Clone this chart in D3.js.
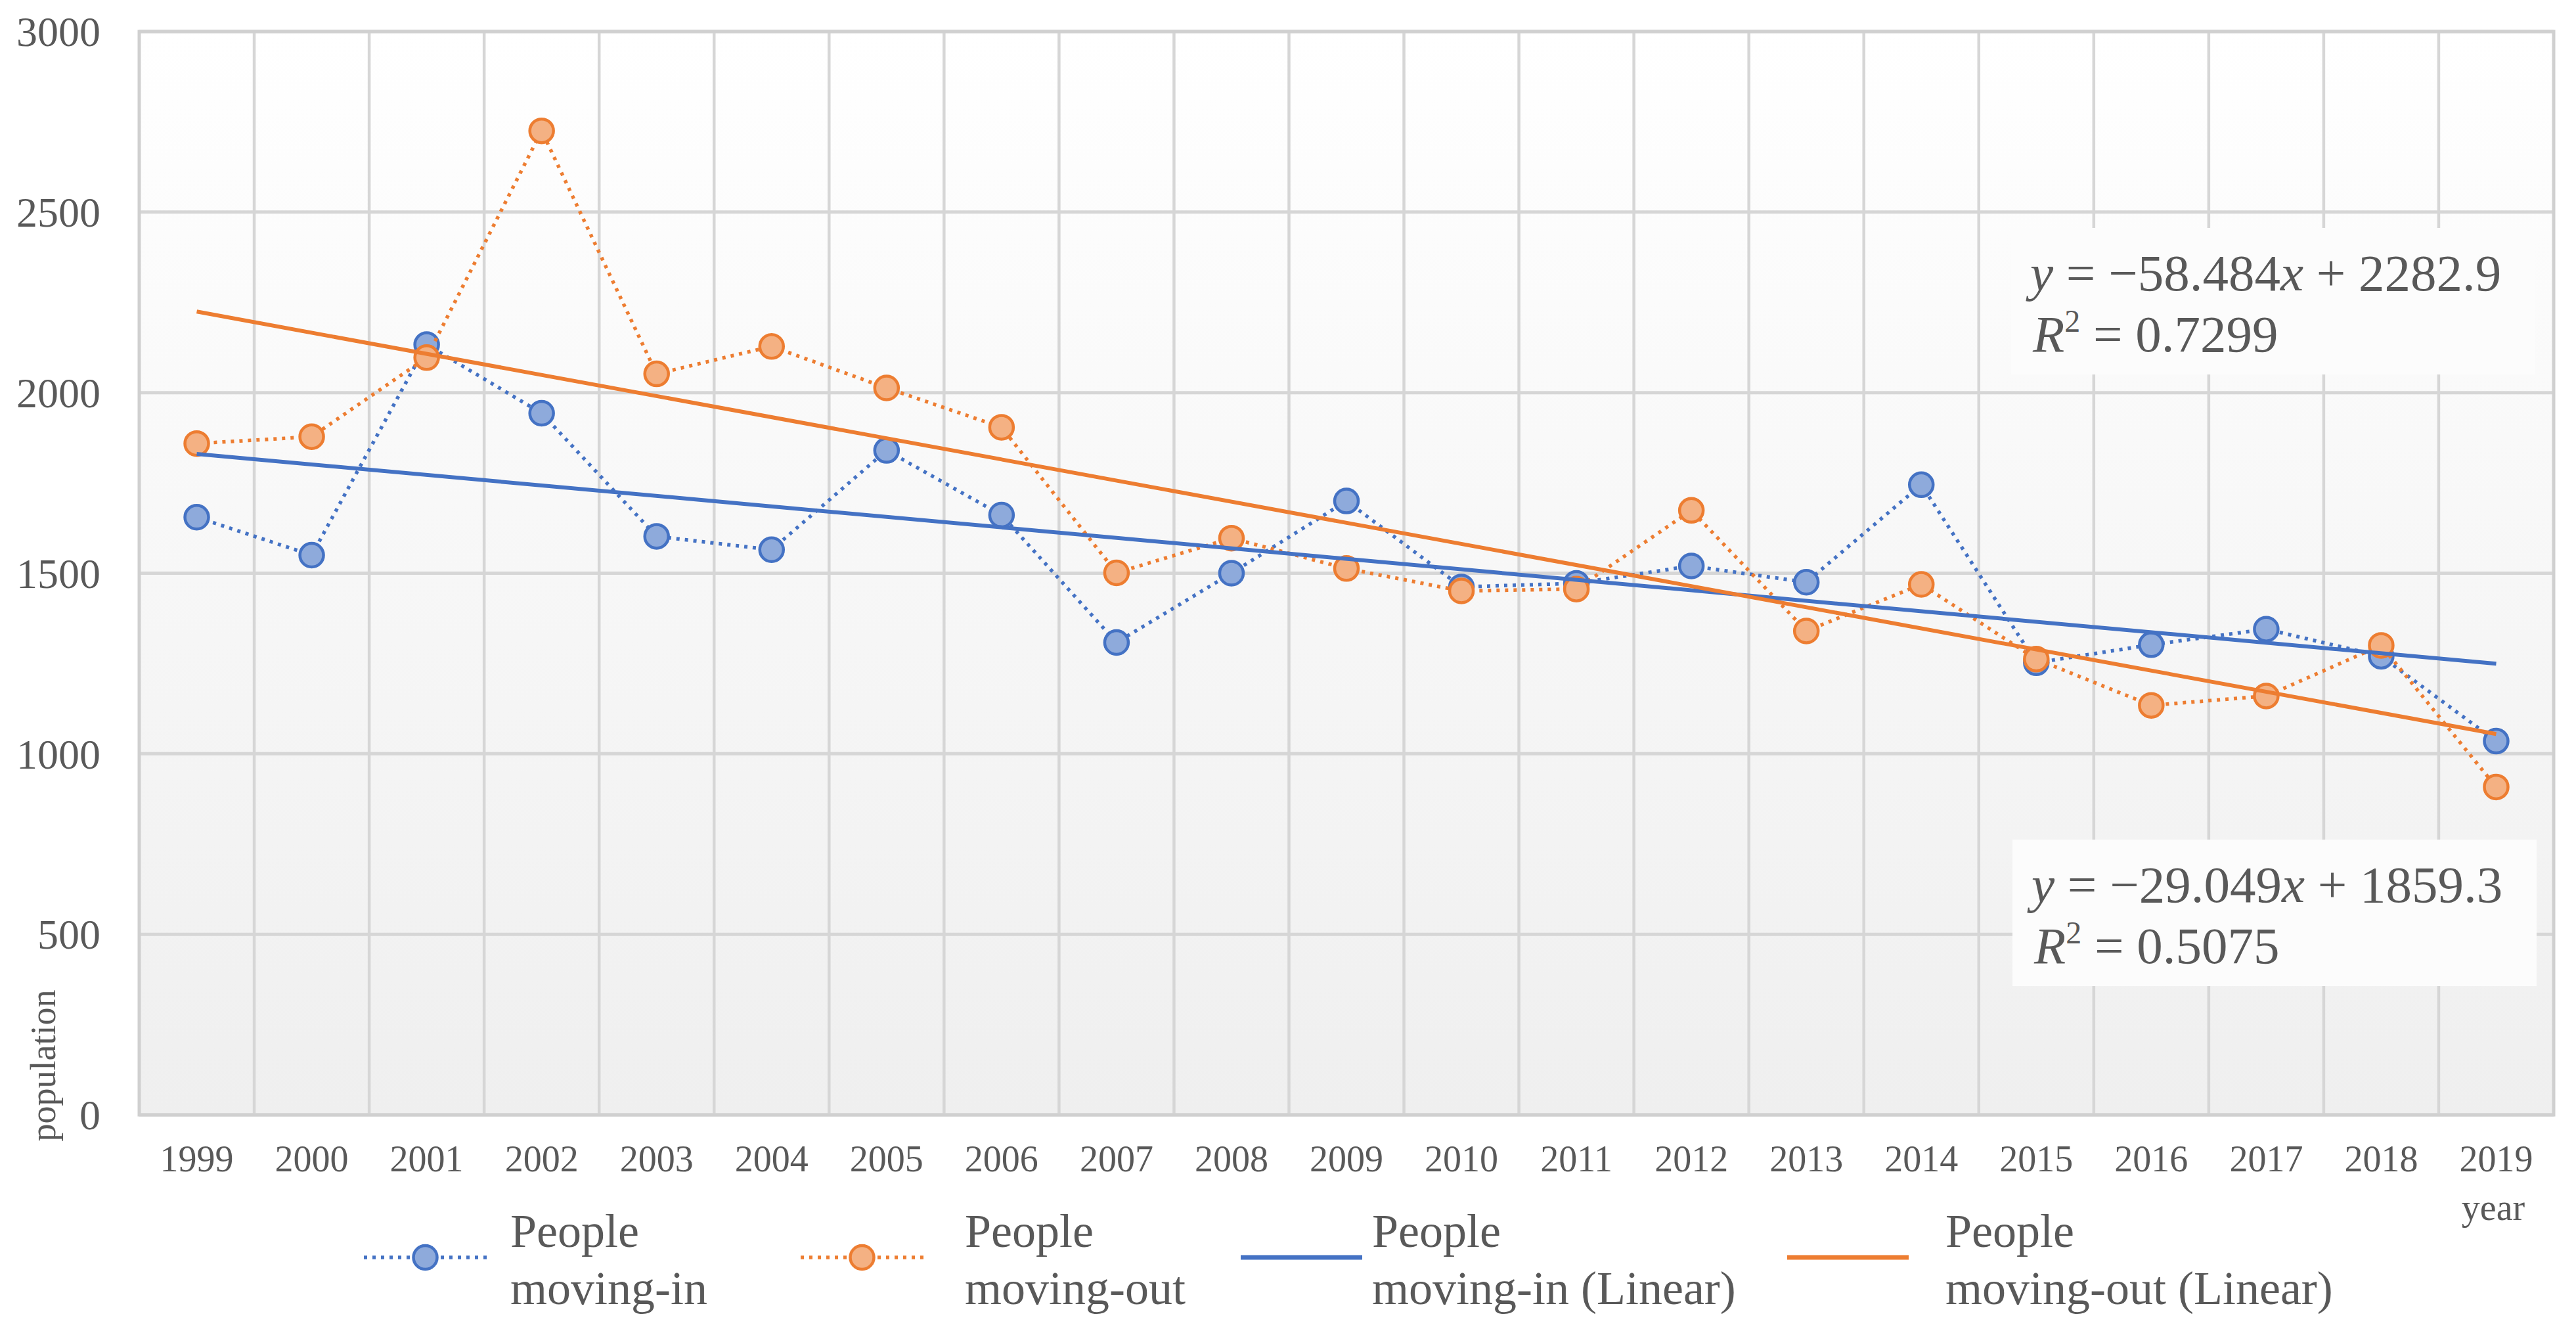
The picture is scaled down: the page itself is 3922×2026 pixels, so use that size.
<!DOCTYPE html>
<html>
<head>
<meta charset="utf-8">
<script src="https://cdn.jsdelivr.net/npm/d3@7"></script>
<style>
  body { margin: 0; background: #fff; }
  text { font-family: "Liberation Serif", "Times New Roman", serif; fill: #595959; }
</style>
</head>
<body>
<div id="chart"></div>
<script>
// data
const years = ['1999','2000','2001','2002','2003','2004','2005','2006','2007','2008','2009',
  '2010','2011','2012','2013','2014','2015','2016','2017','2018','2019'];
const movingIn = [1655, 1550, 2133, 1943, 1602, 1565, 1840, 1661, 1308, 1500, 1700,
  1462, 1472, 1520, 1475, 1745, 1252, 1302, 1345, 1270, 1035];
const movingOut = [1859, 1878, 2097, 2725, 2052, 2128, 2013, 1904, 1501, 1597, 1513,
  1451, 1456, 1674, 1340, 1469, 1262, 1134, 1160, 1300, 908];
const yTicks = [0, 500, 1000, 1500, 2000, 2500, 3000];
// trend line equations as printed on the chart
const trendIn = { slope: -29.049, intercept: 1859.3, r2: '0.5075' };
const trendOut = { slope: -58.484, intercept: 2282.9, r2: '0.7299' };
const legendItems = [
  { lines: ['People', 'moving-in'], color: '#4472c4', fill: '#8eaadb', type: 'marker' },
  { lines: ['People', 'moving-out'], color: '#ed7d31', fill: '#f4b183', type: 'marker' },
  { lines: ['People', 'moving-in (Linear)'], color: '#4472c4', type: 'line' },
  { lines: ['People', 'moving-out (Linear)'], color: '#ed7d31', type: 'line' }
];

let drawChart = () => {
  const W = 3922, H = 2026;
  const margin = { top: 48, right: 34, bottom: 329, left: 212 };
  const width = W - margin.left - margin.right,
        height = H - margin.top - margin.bottom;

  const svg = d3.select('#chart').append('svg')
    .attr('width', W).attr('height', H);

  const defs = svg.append('defs');
  const grad = defs.append('linearGradient').attr('id', 'bg')
    .attr('x1', 0).attr('y1', 0).attr('x2', 0).attr('y2', 1);
  grad.append('stop').attr('offset', '0%').attr('stop-color', '#ffffff');
  grad.append('stop').attr('offset', '100%').attr('stop-color', '#efefef');

  const g = svg.append('g')
    .attr('transform', 'translate(' + margin.left + ',' + margin.top + ')');

  const x = d3.scaleBand().domain(years).range([0, width]).padding(0);
  const cx = d => x(d) + x.bandwidth() / 2;
  const y = d3.scaleLinear().domain([0, 3000]).range([height, 0]);

  // plot background
  g.append('rect').attr('width', width).attr('height', height).attr('fill', 'url(#bg)');

  // grid
  g.append('g').selectAll('line.v')
    .data(years.slice(1))
    .join('line')
    .attr('x1', d => x(d)).attr('x2', d => x(d))
    .attr('y1', 0).attr('y2', height)
    .attr('stroke', '#d6d6d6').attr('stroke-width', 4.5);
  g.append('g').selectAll('line.h')
    .data(yTicks)
    .join('line')
    .attr('x1', 0).attr('x2', width)
    .attr('y1', d => y(d)).attr('y2', d => y(d))
    .attr('stroke', '#d6d6d6').attr('stroke-width', 5);
  g.append('rect').attr('width', width).attr('height', height)
    .attr('fill', 'none').attr('stroke', '#d0d0d0').attr('stroke-width', 5);

  // axes (labels only)
  const yAxis = g.append('g').call(d3.axisLeft(y).tickValues(yTicks)
    .tickFormat(d3.format('d')).tickSize(0).tickPadding(59));
  yAxis.select('.domain').remove();
  yAxis.selectAll('text').attr('font-size', 64).attr('fill', '#595959')
    .attr('font-family', '"Liberation Serif", serif').attr('dy', '0.34em');

  const xAxis = g.append('g').attr('transform', 'translate(0,' + height + ')')
    .call(d3.axisBottom(x).tickSize(0));
  xAxis.select('.domain').remove();
  xAxis.selectAll('text').attr('font-size', 56).attr('fill', '#595959')
    .attr('font-family', '"Liberation Serif", serif').attr('y', 86).attr('dy', 0);

  // axis titles
  svg.append('text').attr('transform', 'translate(84,1622) rotate(-90)')
    .attr('text-anchor', 'middle').attr('font-size', 54).text('population');
  svg.append('text').attr('x', 3796).attr('y', 1857)
    .attr('text-anchor', 'middle').attr('font-size', 56).text('year');

  // series
  const line = d3.line().x((d, i) => cx(years[i])).y(d => y(d));
  const drawSeries = (vals, color, fill) => {
    g.append('path').datum(vals)
      .attr('fill', 'none').attr('stroke', color).attr('stroke-width', 5.5)
      .attr('stroke-dasharray', '5,8').attr('d', line);
    g.append('g').selectAll('circle').data(vals).join('circle')
      .attr('cx', (d, i) => cx(years[i])).attr('cy', d => y(d)).attr('r', 18)
      .attr('fill', fill).attr('stroke', color).attr('stroke-width', 4.5);
  };
  drawSeries(movingIn, '#4472c4', '#8eaadb');
  drawSeries(movingOut, '#ed7d31', '#f4b183');

  // trend lines from the printed equations, x = 1 .. n
  const drawTrend = (t, color) => {
    const ends = [1, years.length];
    g.append('path').datum(ends)
      .attr('fill', 'none').attr('stroke', color).attr('stroke-width', 6)
      .attr('d', d3.line().x(k => cx(years[k - 1])).y(k => y(t.slope * k + t.intercept)));
  };
  drawTrend(trendIn, '#4472c4');
  drawTrend(trendOut, '#ed7d31');

  // equation labels
  const drawEq = (t, bx, by) => {
    const box = svg.append('g').attr('transform', 'translate(' + bx + ',' + by + ')');
    box.append('rect').attr('width', 798).attr('height', 223).attr('fill', '#fcfcfc');
    const t1 = box.append('text').attr('x', 29).attr('y', 95).attr('font-size', 79).attr('fill', '#404040');
    t1.append('tspan').attr('font-style', 'italic').text('y');
    t1.append('tspan').text(' = \u2212' + Math.abs(t.slope).toFixed(3));
    t1.append('tspan').attr('font-style', 'italic').text('x');
    t1.append('tspan').text(' + ' + t.intercept.toFixed(1));
    const t2 = box.append('text').attr('x', 33).attr('y', 188).attr('font-size', 79).attr('fill', '#404040');
    t2.append('tspan').attr('font-style', 'italic').text('R');
    t2.append('tspan').attr('font-size', 48).attr('dy', -30).text('2');
    t2.append('tspan').attr('dy', 30).text(' = ' + t.r2);
  };
  drawEq(trendOut, 3062, 347);
  drawEq(trendIn, 3064, 1278);

  // legend
  const legendX = [554, 1219, 1889, 2721];
  const textX = [223, 250, 200, 241];
  const legY = 1914;
  legendItems.forEach((it, i) => {
    const lg = svg.append('g').attr('transform', 'translate(' + legendX[i] + ',' + legY + ')');
    const len = it.type === 'marker' ? 187 : 185;
    lg.append('line').attr('x1', 0).attr('x2', len).attr('y1', 0).attr('y2', 0)
      .attr('stroke', it.color).attr('stroke-width', it.type === 'marker' ? 5.5 : 7)
      .attr('stroke-dasharray', it.type === 'marker' ? '5,8' : null);
    if (it.type === 'marker') {
      lg.append('circle').attr('cx', len / 2).attr('r', 18)
        .attr('fill', it.fill).attr('stroke', it.color).attr('stroke-width', 4.5);
    }
    lg.append('text').attr('x', textX[i]).attr('y', -16).attr('font-size', 72)
      .attr('fill', '#7f7f7f').text(it.lines[0]);
    lg.append('text').attr('x', textX[i]).attr('y', 71).attr('font-size', 72)
      .attr('fill', '#7f7f7f').text(it.lines[1]);
  });
};

drawChart();
</script>
</body>
</html>
